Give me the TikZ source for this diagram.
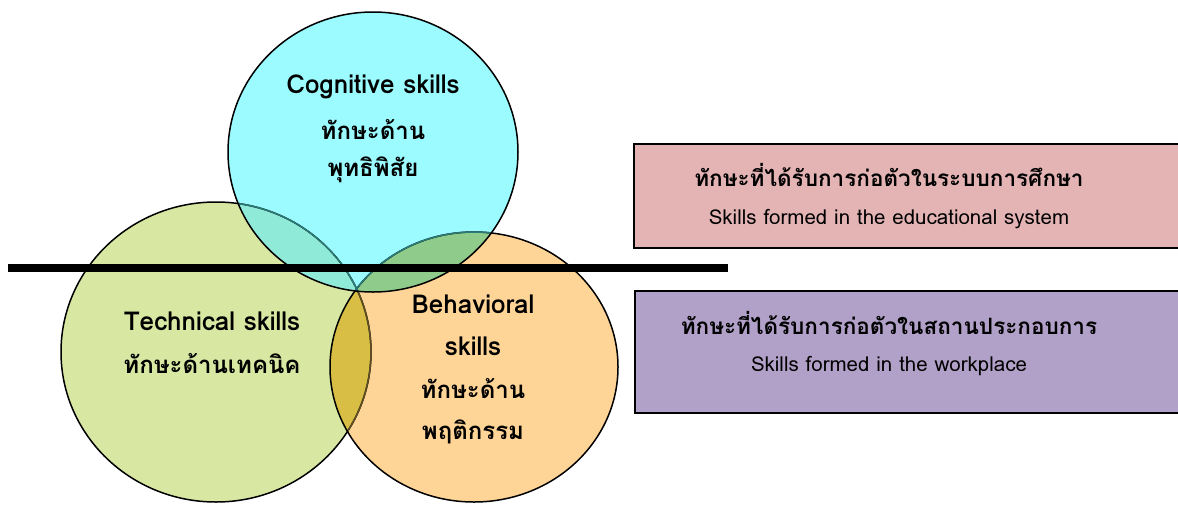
\documentclass[tikz,border=0pt]{standalone}
\usepackage{fontspec}
\setmainfont[Script=Thai]{Loma}
\definecolor{cyanfill}{HTML}{9BFBFF}
\definecolor{greenfill}{HTML}{D8E8A2}
\definecolor{orangefill}{HTML}{FFD597}
\definecolor{goldfill}{HTML}{D8BE45}
\definecolor{tealmix}{HTML}{90EAD8}
\definecolor{greenmix}{HTML}{8FCB8A}
\definecolor{triplemix}{HTML}{80BA72}
\definecolor{pinkbox}{HTML}{E4B4B5}
\definecolor{purplebox}{HTML}{B1A0C7}
\definecolor{underteal}{HTML}{2A7A76}
\definecolor{underbrown}{HTML}{5E4E22}
\begin{document}
\begin{tikzpicture}[x=1pt,y=-1pt,
  gpath/.style={insert path={(216,352) ellipse [x radius=155, y radius=150]}},
  opath/.style={insert path={(474,367) ellipse [x radius=144, y radius=135]}},
  cpath/.style={insert path={(373,152) ellipse [x radius=145, y radius=140]}},
  outline/.style={line width=1.5pt},
  latinlabel/.style={anchor=base, font=\fontsize{26}{30}\selectfont\bfseries},
  thailabel/.style={anchor=base, font=\fontsize{24}{28}\selectfont\bfseries},
  boxtitle/.style={anchor=base, font=\fontsize{22.5}{26}\selectfont\bfseries},
  boxsub/.style={anchor=base, font=\fontsize{20.5}{24}\selectfont},
  boxframe/.style={draw=black, line width=2pt, anchor=north west, inner sep=0pt}
]
\fill[white] (0,0) rectangle (1178,504);
\useasboundingbox (0,0) rectangle (1178,504);

% base fills
\fill[greenfill, gpath];
\fill[orangefill, opath];
\fill[cyanfill, cpath];
% overlaps
\begin{scope}
  \clip[opath];
  \fill[greenmix, cpath];
\end{scope}
\begin{scope}
  \clip[gpath];
  \fill[goldfill, opath];
  \fill[tealmix, cpath];
  \begin{scope}
    \clip[opath];
    \fill[triplemix, cpath];
  \end{scope}
\end{scope}

% outlines
\draw[outline, gpath];
\begin{scope}
  \clip[opath];
  \draw[outline, underbrown, gpath];
\end{scope}
\draw[outline, opath];
\begin{scope}
  \clip[cpath];
  \draw[outline, underteal, gpath];
  \draw[outline, underteal, opath];
\end{scope}
\draw[outline, cpath];

% divider band
\coordinate (bandL) at (8,268);
\coordinate (bandR) at (728,268);
\draw[line width=8pt] (bandL) -- (bandR);

% circle labels
\node[latinlabel] (cog1) at (373,93) {Cognitive skills};
\node[thailabel] (cog2) at (373,139) {ทักษะด้าน};
\node[thailabel] (cog3) at (373,176) {พุทธิพิสัย};
\node[latinlabel] (tec1) at (212,330) {Technical skills};
\node[thailabel] (tec2) at (212,373) {ทักษะด้านเทคนิค};
\node[latinlabel] (beh1) at (473,313) {Behavioral};
\node[latinlabel] (beh2) at (473,355) {skills};
\node[thailabel] (beh3) at (473,398) {ทักษะด้าน};
\node[thailabel] (beh4) at (473,439) {พฤติกรรม};

% boxes
\node[boxframe, fill=pinkbox, minimum width=560pt, minimum height=104pt] (edubox) at (633,143) {};
\node[boxframe, fill=purplebox, minimum width=560pt, minimum height=122pt] (workbox) at (634,290) {};
\node[boxtitle] (edu1) at (889,186) {ทักษะที่ได้รับการก่อตัวในระบบการศึกษา};
\node[boxsub] (edu2) at (889,224) {Skills formed in the educational system};
\node[boxtitle] (work1) at (889,334) {ทักษะที่ได้รับการก่อตัวในสถานประกอบการ};
\node[boxsub] (work2) at (889,371) {Skills formed in the workplace};
\end{tikzpicture}
\end{document}
